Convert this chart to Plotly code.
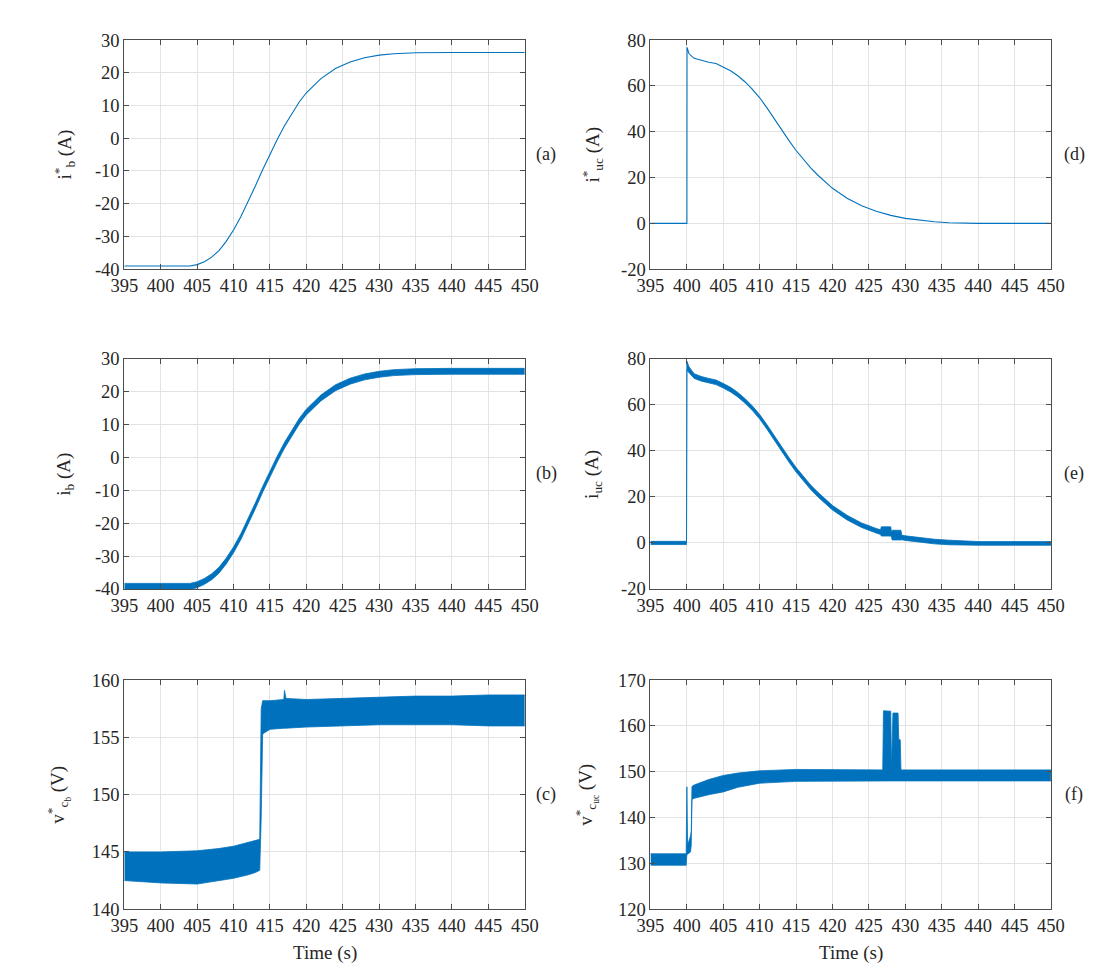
import plotly.graph_objects as go

BLUE = "#0072BD"
FONT = "Liberation Serif"
TXT = "#262626"

# ---------------- data ----------------
X_TICKS = [395, 400, 405, 410, 415, 420, 425, 430, 435, 440, 445, 450]

# (a) battery current reference
T_A = [395, 404, 405, 406, 407, 408, 409, 410, 411, 412, 413, 414, 415, 416,
       417, 418, 419, 420, 422, 424, 426, 428, 430, 432, 435, 440, 450]
I_B_REF = [-39, -39, -38.6, -37.7, -36.3, -34.3, -31.5, -28.0, -24.0, -19.5,
           -14.6, -9.6, -4.8, -0.4, 3.8, 7.6, 11.0, 13.9, 18.2, 21.3, 23.3,
           24.6, 25.4, 25.8, 26.1, 26.2, 26.2]

# (b) measured battery current (noise band: lower / upper envelope)
T_B = T_A
I_B_LO = [-40.2, -40.2, -39.6, -38.6, -37.2, -35.2, -32.4, -29.0, -25.0, -20.5,
          -15.6, -10.6, -5.8, -1.4, 2.8, 6.6, 10.0, 12.9, 17.2, 20.3, 22.3,
          23.6, 24.4, 24.9, 25.2, 25.3, 25.3]
I_B_HI = [-38.3, -38.3, -37.8, -36.8, -35.4, -33.4, -30.6, -27.2, -23.2, -18.7,
          -13.8, -8.8, -4.0, 0.4, 4.6, 8.4, 11.8, 14.7, 19.0, 22.1, 24.1,
          25.4, 26.2, 26.7, 27.0, 27.1, 27.1]

# (c) battery-side capacitor voltage reference (band)
T_C = [395, 400, 405, 408, 410, 412, 413, 413.6, 413.8, 414.0, 415, 416.9,
       417.0, 417.2, 420, 425, 430, 435, 440, 445, 450]
V_CB_LO = [142.5, 142.3, 142.2, 142.5, 142.7, 143.0, 143.2, 143.4, 148.0, 155.3,
           155.7, 155.8, 155.8, 155.8, 155.9, 156.0, 156.1, 156.1, 156.1, 156.0, 156.0]
V_CB_HI = [145.0, 145.0, 145.1, 145.3, 145.5, 145.8, 146.0, 146.1, 157.5, 158.2,
           158.2, 158.3, 159.1, 158.4, 158.3, 158.4, 158.5, 158.6, 158.6, 158.7, 158.7]

# (d) ultracapacitor current reference
T_D = [395, 400, 400.02, 400.3, 401, 402, 403, 404, 405, 406, 407, 408, 409,
       410, 411, 412, 413, 414, 415, 416, 417, 418, 419, 420, 422, 424, 426,
       428, 430, 432, 434, 436, 438, 440, 450]
I_UC_REF = [0, 0, 76.8, 74, 72, 71, 70.3, 69.8, 68.3, 66.6, 64.4, 61.7, 58.5,
            54.8, 50.4, 45.6, 40.8, 36.2, 31.8, 27.8, 24.2, 21, 18, 15.3, 11,
            7.7, 5.3, 3.5, 2.2, 1.3, 0.7, 0.3, 0.1, 0, 0]

# (e) measured ultracapacitor current (band)
T_E = [395, 399.95, 400.0, 400.3, 401, 402, 403, 404, 405, 406, 407, 408, 409,
       410, 411, 412, 413, 414, 415, 416, 417, 418, 419, 420, 422, 424, 426,
       426.6, 426.7, 428.0, 428.1, 428.2, 429.4, 429.5, 430, 432, 434, 436,
       438, 440, 450]
I_UC_LO = [-0.7, -0.7, 75.0, 73.8, 71.5, 70.3, 69.5, 68.8, 67.3, 65.6, 63.4,
           60.7, 57.5, 53.8, 49.4, 44.6, 39.8, 35.2, 30.8, 26.8, 23.2, 20.0,
           17.0, 14.3, 10.0, 6.7, 4.3, 3.7, 3.0, 3.0, 2.5, 1.3, 1.3, 1.4, 1.1,
           0.2, -0.4, -0.8, -1.0, -1.0, -1.0]
I_UC_HI = [0.7, 0.7, 79.0, 76.5, 73.5, 72.3, 71.5, 70.8, 69.3, 67.6, 65.4,
           62.7, 59.5, 55.8, 51.4, 46.6, 41.8, 37.2, 32.8, 28.8, 25.2, 22.0,
           19.0, 16.3, 12.0, 8.7, 6.3, 5.7, 7.0, 7.0, 4.5, 5.5, 5.5, 3.4, 3.1,
           2.2, 1.6, 1.2, 0.9, 0.6, 0.6]

# (f) ultracapacitor-side capacitor voltage reference (band)
T_F = [395, 399.9, 400.0, 400.1, 400.5, 400.6, 400.7, 401, 403, 405, 407, 410,
       415, 420, 426.9, 427.0, 428.0, 428.1, 428.3, 429.0, 429.1, 429.3, 429.4,
       435, 450]
V_CUC_LO = [129.6, 129.6, 132.0, 132.0, 132.5, 134.0, 144.0, 144.2, 145.0,
            145.6, 146.6, 147.5, 147.9, 148.0, 148.0, 148.0, 148.0, 148.0,
            148.0, 148.0, 148.0, 148.0, 148.0, 148.0, 148.0]
V_CUC_HI = [132.1, 132.1, 146.7, 134.0, 136.0, 137.0, 146.8, 147.1, 148.3,
            149.2, 149.7, 150.2, 150.5, 150.5, 150.4, 163.3, 163.2, 150.5,
            162.8, 162.8, 157.0, 157.0, 150.4, 150.4, 150.4]

Y_TICKS = {
    1: [-40, -30, -20, -10, 0, 10, 20, 30],
    2: [-20, 0, 20, 40, 60, 80],
    3: [-40, -30, -20, -10, 0, 10, 20, 30],
    4: [-20, 0, 20, 40, 60, 80],
    5: [140, 145, 150, 155, 160],
    6: [120, 130, 140, 150, 160, 170],
}

# ---------------- layout geometry (px) ----------------
W, H = 1093, 970
COLS = [(105, 516), (645, 1056)]
ROWS = [(22.5, 256.5), (348, 583), (676, 910)]

fig = go.Figure()


def line(idx, x, y):
    fig.add_trace(go.Scatter(x=x, y=y, mode="lines",
                             line=dict(color=BLUE, width=1.1),
                             xaxis=f"x{idx}", yaxis=f"y{idx}",
                             hoverinfo="skip"))


def band(idx, x, lo, hi):
    fig.add_trace(go.Scatter(x=x, y=lo, mode="lines",
                             line=dict(color=BLUE, width=0.8),
                             xaxis=f"x{idx}", yaxis=f"y{idx}",
                             hoverinfo="skip"))
    fig.add_trace(go.Scatter(x=x, y=hi, mode="lines", fill="tonexty",
                             fillcolor=BLUE,
                             line=dict(color=BLUE, width=0.8),
                             xaxis=f"x{idx}", yaxis=f"y{idx}",
                             hoverinfo="skip"))


# axis index: 1=(a),2=(d),3=(b),4=(e),5=(c),6=(f)
line(1, T_A, I_B_REF)
line(2, T_D, I_UC_REF)
band(3, T_B, I_B_LO, I_B_HI)
band(4, T_E, I_UC_LO, I_UC_HI)
band(5, T_C, V_CB_LO, V_CB_HI)
band(6, T_F, V_CUC_LO, V_CUC_HI)

layout = dict(width=W, height=H, autosize=False,
              margin=dict(l=0, r=0, t=0, b=0),
              paper_bgcolor="white", plot_bgcolor="white",
              showlegend=False,
              font=dict(family=FONT, size=18, color=TXT))

common = dict(showline=True, linecolor="#4d4d4d", linewidth=1,
              mirror="ticks", ticks="inside", ticklen=5,
              tickcolor="#4d4d4d", tickwidth=1,
              showgrid=True, gridcolor="#e3e3e3", gridwidth=1,
              zeroline=False,
              tickfont=dict(family=FONT, size=18.5, color=TXT))

for idx in range(1, 7):
    r = (idx - 1) // 2
    c = (idx - 1) % 2
    x0, x1 = COLS[c]
    y0, y1 = ROWS[r]
    yt = Y_TICKS[idx]
    layout[f"xaxis{idx}"] = dict(common, domain=[x0 / W, x1 / W],
                                 anchor=f"y{idx}", range=[395, 450],
                                 tickmode="array", tickvals=X_TICKS,
                                 ticktext=[str(v) for v in X_TICKS])
    layout[f"yaxis{idx}"] = dict(common, domain=[1 - y1 / H, 1 - y0 / H],
                                 anchor=f"x{idx}", range=[yt[0], yt[-1]],
                                 tickmode="array", tickvals=yt,
                                 ticktext=[str(v) for v in yt])

ylabels = [
    ("i<sup>*</sup><sub>b</sub> (A)", 44, 0),
    ("i<sup>*</sup><sub>uc</sub> (A)", 586, 0),
    ("i<sub>b</sub> (A)", 44, 1),
    ("i<sub>uc</sub> (A)", 586, 1),
    ("v<sup>*</sup><sub>c<sub>b</sub></sub> (V)", 38, 2),
    ("v<sup>*</sup><sub>c<sub>uc</sub></sub> (V)", 580, 2),
]
ann = []
for text, px, r in ylabels:
    yc = (ROWS[r][0] + ROWS[r][1]) / 2
    ann.append(dict(text=text, x=px / W, y=1 - yc / H, xref="paper",
                    yref="paper", textangle=-90, showarrow=False,
                    xanchor="center", yanchor="middle",
                    font=dict(family=FONT, size=19, color=TXT)))

panels = [("(a)", 0, 0), ("(d)", 1, 0), ("(b)", 0, 1), ("(e)", 1, 1),
          ("(c)", 0, 2), ("(f)", 1, 2)]
PANEL_X = [538, 1080]
for text, c, r in panels:
    yc = (ROWS[r][0] + ROWS[r][1]) / 2
    ann.append(dict(text=text, x=PANEL_X[c] / W, y=1 - yc / H, xref="paper",
                    yref="paper", showarrow=False, xanchor="center",
                    yanchor="middle",
                    font=dict(family=FONT, size=18, color=TXT)))

for c in range(2):
    xc = (COLS[c][0] + COLS[c][1]) / 2
    ann.append(dict(text="Time (s)", x=xc / W, y=1 - 955 / H, xref="paper",
                    yref="paper", showarrow=False, xanchor="center",
                    yanchor="middle",
                    font=dict(family=FONT, size=19, color=TXT)))

layout["annotations"] = ann
fig.update_layout(**layout)
fig.write_html("out.html")
